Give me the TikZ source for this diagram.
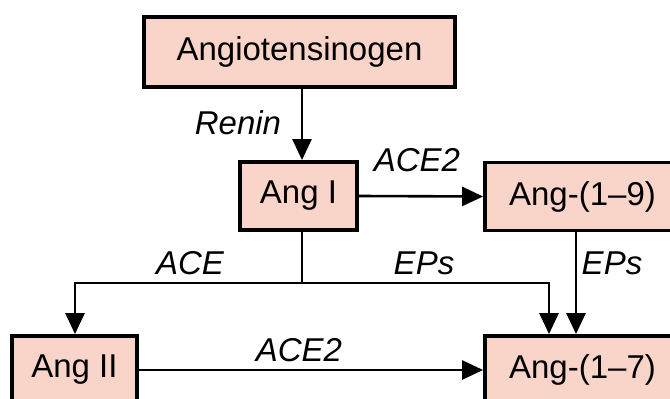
\documentclass[tikz,border=0pt]{standalone}
\usepackage{fontspec}
\setmainfont{Liberation Sans}
\usetikzlibrary{arrows.meta}
\definecolor{boxfill}{RGB}{249,212,200}
\tikzset{
  box/.style={draw=black, line width=3.8pt, fill=boxfill, inner sep=0pt, align=center,
    font=\fontsize{33}{38}\selectfont},
  lbl/.style={font=\fontsize{33}{38}\selectfont\itshape, inner sep=0pt},
  arr/.style={line width=2.6pt, -{Triangle[length=21pt,width=19pt]}},
  ln/.style={line width=2.6pt}
}
\begin{document}
\begin{tikzpicture}[x=1pt,y=-1pt]
\useasboundingbox (0,0) rectangle (670,399);
\clip (0,0) rectangle (670,399);
\fill[white] (0,0) rectangle (670,399);
% nodes
\node[box, minimum width=311pt, minimum height=70pt] (agt) at (299.5,52) {Angiotensinogen};
\node[box, minimum width=117pt, minimum height=68pt] (ang1) at (298.5,196) {Ang I};
\node[box, minimum width=195pt, minimum height=68pt] (ang19) at (582.5,196.5) {Ang-(1–9)};
\node[box, minimum width=125pt, minimum height=68pt] (ang2) at (74.5,370) {Ang II};
\node[box, minimum width=195pt, minimum height=68pt] (ang17) at (582.5,370) {Ang-(1–7)};
% labels
\node[lbl] (renin) at (238,123) {Renin};
\node[lbl] (ace2a) at (417,160) {ACE2};
\node[lbl] (ace) at (190,263) {ACE};
\node[lbl] (eps1) at (424,263) {EPs};
\node[lbl] (eps2) at (612,263) {EPs};
\node[lbl] (ace2b) at (299,350) {ACE2};
% junction
\coordinate (j) at (302,283);
% connectors
\draw[arr] ([xshift=2.5pt]agt.south) -- ([xshift=3.5pt]ang1.north);
\draw[arr] (ang1.east) -- (ang19.west);
\draw[ln] ([xshift=3.5pt]ang1.south) -- (j);
\draw[arr] (j) -| ([xshift=0.5pt]ang2.north);
\draw[arr] (j) -| ([xshift=-33.5pt]ang17.north);
\draw[arr] ([xshift=-6.5pt]ang19.south) -- ([xshift=-6.5pt]ang17.north);
\draw[arr] (ang2.east) -- (ang17.west);
\end{tikzpicture}
\end{document}
